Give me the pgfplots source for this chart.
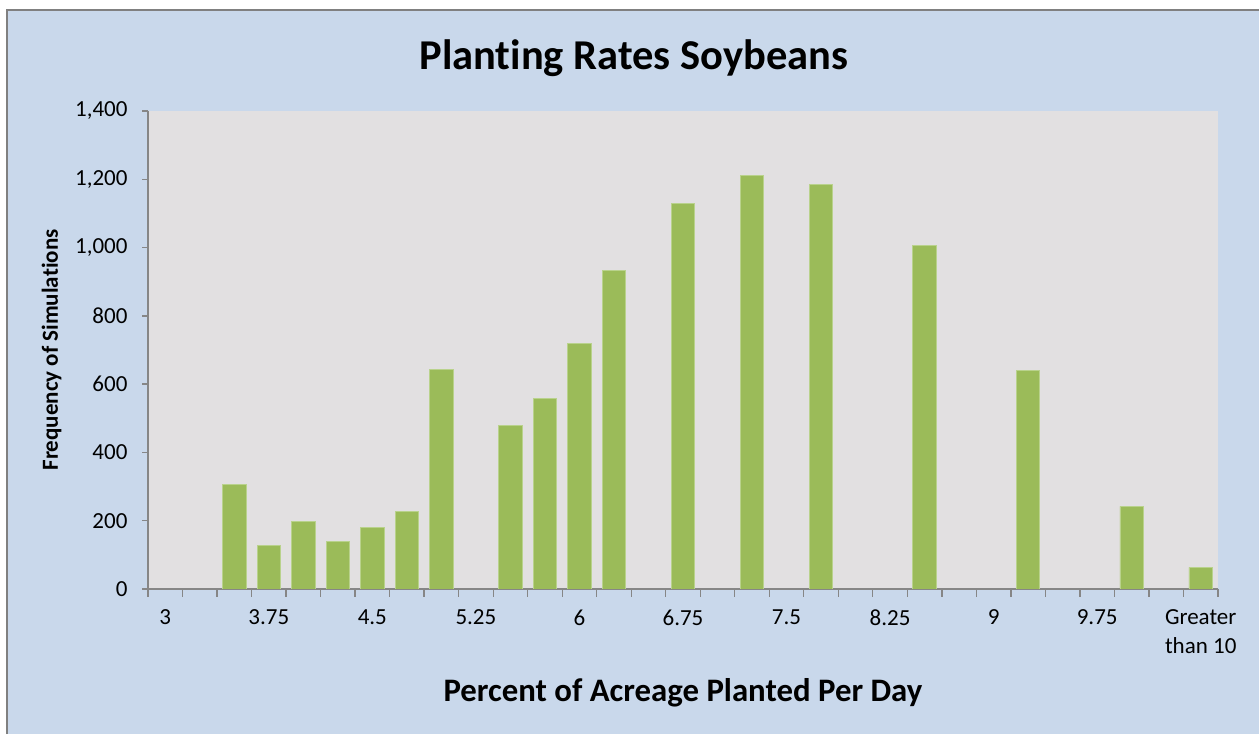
\documentclass[border=0pt]{standalone}
\usepackage{fontspec}
\setmainfont{Carlito}[Ligatures=NoCommon]
\usepackage{pgfplots}
\pgfplotsset{compat=1.18}
\definecolor{bgblue}{RGB}{201,216,235}
\definecolor{plotgray}{RGB}{226,224,225}
\definecolor{bargreen}{RGB}{155,187,89}
\definecolor{baredge}{RGB}{185,210,140}
\definecolor{axgray}{RGB}{134,134,134}
\definecolor{frame}{RGB}{128,128,128}
\begin{document}
\begin{tikzpicture}[x=1pt,y=1pt]
\useasboundingbox (0,0) rectangle (1259,734);
\fill[white] (0,0) rectangle (1259,734);
\fill[bgblue] (7,0) rectangle (1259,724);
\draw[frame,line width=2.2pt] (7,0) -- (7,724) -- (1259,724);
\begin{axis}[
  at={(148pt,145pt)}, anchor=south west,
  scale only axis, width=1070pt, height=478pt,
  xmin=-0.5, xmax=30.5, ymin=0, ymax=1400,
  axis background/.style={fill=plotgray},
  axis x line*=bottom, axis y line*=left,
  axis line style={axgray, line width=1.3pt},
  every outer x axis line/.append style={-}, every outer y axis line/.append style={-},
  xtick={0,3,...,30},
  xticklabels={3,3.75,4.5,5.25,6,6.75,7.5,8.25,9,9.75,{Greater\\than 10}},
  major x tick style={draw=none},
  minor xtick={-0.5,0.5,...,30.5},
  minor x tick style={axgray, line width=1.3pt},
  minor tick length=8pt,
  ytick={0,200,...,1400},
  major y tick style={axgray, line width=1.3pt},
  major tick length=6pt,
  tick align=outside,
  /pgf/number format/assume math mode=true,
  /pgf/number format/1000 sep={,},
  yticklabel style={font=\fontsize{23}{26}\selectfont, xshift=-11pt},
  xticklabel style={font=\fontsize{23}{29}\selectfont, align=center, yshift=-11pt},
  title={\textbf{Planting Rates Soybeans}},
  title style={font=\fontsize{42.5}{46}\selectfont, at={(axis description cs:0.454,1.0745)}, anchor=base},
  xlabel={\textbf{Percent of Acreage Planted Per Day}},
  xlabel style={font=\fontsize{32.8}{36}\selectfont, at={(axis description cs:0.5,-0.236)}, anchor=base},
  ylabel={\textbf{Frequency of Simulations}},
  ylabel style={font=\fontsize{23}{26}\selectfont, at={(axis description cs:-0.09,0.5)}, anchor=center, rotate=0},
]
\addplot[ybar, bar width=0.68, fill=bargreen, draw=baredge, line width=0.8pt] coordinates {
(2,306) (3,127) (4,197) (5,140) (6,180) (7,226) (8,642)
(10,478) (11,557) (12,718) (13,932) (15,1128) (17,1210) (19,1184)
(22,1005) (25,640) (28,242) (30,63)
};
\end{axis}
\end{tikzpicture}
\end{document}
